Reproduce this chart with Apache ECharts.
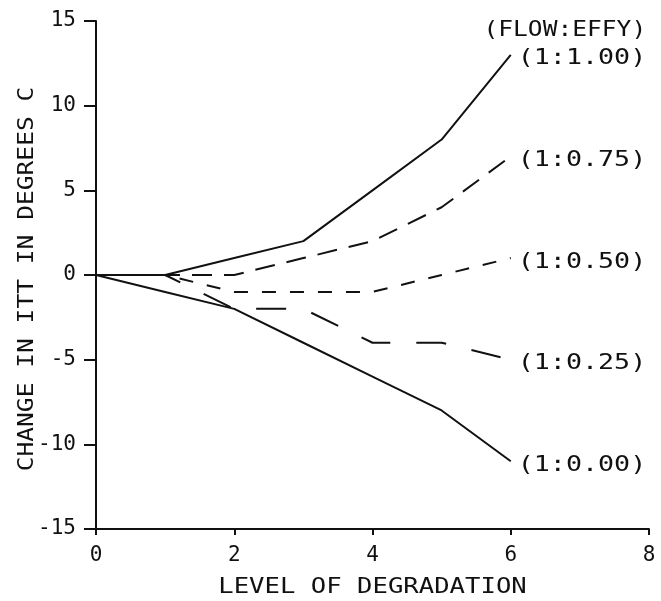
<!DOCTYPE html>
<html>
<head>
<meta charset="utf-8">
<script src="https://cdn.jsdelivr.net/npm/echarts@6/dist/echarts.min.js"></script>
<style>html,body{margin:0;padding:0;background:#fff}#c{width:661px;height:601px}</style>
</head>
<body>
<div id="c"></div>
<script>
const xLevels = [0, 1, 2, 3, 4, 5, 6];
const seriesNames = ['(1:1.00)', '(1:0.75)', '(1:0.50)', '(1:0.25)', '(1:0.00)'];
const eff100 = [0, 0, 1, 2, 5, 8, 13];
const eff075 = [0, 0, 0, 1, 2, 4, 7];
const eff050 = [0, 0, -1, -1, -1, 0, 1];
const eff025 = [0, 0, -2, -2, -4, -4, -5];
const eff000 = [0, -1, -2, -4, -6, -8, -11];
const legendTitle = '(FLOW:EFFY)';
const xTitle = 'LEVEL OF DEGRADATION';
const yTitle = 'CHANGE IN ITT IN DEGREES C';

const FONT = '"DejaVu Sans Mono", monospace';
const INK = '#111';
const values = [eff100, eff075, eff050, eff025, eff000];
const dashes = ['solid', [20, 12], [14, 14], [30, 26], 'solid'];
const LABEL_WIDE = 1.27;

const chart = echarts.init(document.getElementById('c'), null, {renderer: 'canvas'});
chart.setOption({
  animation: false,
  backgroundColor: '#fff',
  grid: {left: 96, right: 12, top: 21, bottom: 72, containLabel: false},
  xAxis: {
    type: 'value', min: 0, max: 8, interval: 2,
    axisLine: {onZero: false, lineStyle: {color: INK, width: 2}},
    axisTick: {show: true, length: 6, lineStyle: {color: INK, width: 2}},
    axisLabel: {margin: 16, fontFamily: FONT, fontSize: 21, color: INK},
    splitLine: {show: false}
  },
  yAxis: {
    type: 'value', min: -15, max: 15, interval: 5,
    axisLine: {onZero: false, lineStyle: {color: INK, width: 2}},
    axisTick: {show: true, length: 12, lineStyle: {color: INK, width: 2}},
    axisLabel: {margin: 20, fontFamily: FONT, fontSize: 21, color: INK},
    splitLine: {show: false}
  },
  series: seriesNames.map((name, i) => ({
    name: name,
    type: 'line',
    data: xLevels.map((x, j) => [x, values[i][j]]),
    symbol: 'none',
    lineStyle: {color: INK, width: 2, type: dashes[i]},
    z: i === 0 || i === 4 ? 3 : 2
  }))
});

// text elements placed through the chart's own scales
const gridTL = chart.convertToPixel({gridIndex: 0}, [0, 15]);
const gridBR = chart.convertToPixel({gridIndex: 0}, [8, -15]);
const txt = (text, x, y, align, scaleX, extra) => Object.assign({
  type: 'text', x: x, y: y, scaleX: scaleX, scaleY: 1,
  style: {text: text, font: '21px ' + FONT, fill: INK, align: align, verticalAlign: 'middle'}
}, extra || {});

const graphics = [];
const last = xLevels.length - 1;
const labelAdvance = 21 * 0.602 * LABEL_WIDE;
seriesNames.forEach((name, i) => {
  const p = chart.convertToPixel({gridIndex: 0}, [xLevels[last], values[i][last]]);
  graphics.push(txt(name, p[0] + 7, p[1] + 4, 'left', LABEL_WIDE));
});
const firstEnd = chart.convertToPixel({gridIndex: 0}, [xLevels[last], eff100[last]]);
const topLabelRight = firstEnd[0] + 7 + seriesNames[0].length * labelAdvance;
graphics.push(txt(legendTitle, topLabelRight, firstEnd[1] - 24, 'right', 1.17));
graphics.push(txt(xTitle, (gridTL[0] + gridBR[0]) / 2, gridBR[1] + 59, 'center', 1.22));
graphics.push(txt(yTitle, 28, (gridTL[1] + gridBR[1]) / 2 + 4, 'center', 1.17, {rotation: Math.PI / 2}));
chart.setOption({graphic: graphics});
</script>
</body>
</html>
